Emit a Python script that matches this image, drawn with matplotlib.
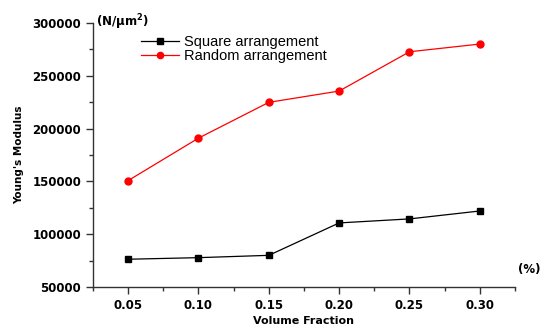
import matplotlib.pyplot as plt
from matplotlib.ticker import MultipleLocator

# Fraction volumique et module d'Young pour les deux arrangements
volume_fraction = [0.05, 0.10, 0.15, 0.20, 0.25, 0.30]
square_modulus = [76300, 77800, 80000, 110700, 114500, 122000]
random_modulus = [150800, 191000, 224900, 235600, 272800, 280100]
x_tick_labels = ["0.05", "0.10", "0.15", "0.20", "0.25", "0.30"]

fig = plt.figure(figsize=(5.47, 3.34), dpi=100)
ax = fig.add_axes([0.170, 0.1407, 0.7715, 0.7903])

ax.plot(volume_fraction, square_modulus, color="black", lw=0.9, marker="s",
        markersize=5, label="Square arrangement")
ax.plot(volume_fraction, random_modulus, color="red", lw=0.9, marker="o",
        markersize=5, label="Random arrangement")

ax.set_xlim(0.025, 0.325)
ax.set_ylim(50000, 300000)
ax.set_xticks(volume_fraction)
ax.set_xticklabels(x_tick_labels)
ax.xaxis.set_minor_locator(MultipleLocator(0.025))
ax.yaxis.set_major_locator(MultipleLocator(50000))
ax.yaxis.set_minor_locator(MultipleLocator(25000))

for s in ["top", "right"]:
    ax.spines[s].set_visible(False)
for s in ["left", "bottom"]:
    ax.spines[s].set_color("#333333")
    ax.spines[s].set_linewidth(1.0)

ax.tick_params(which="major", direction="out", length=5, width=1, colors="#333333")
ax.tick_params(which="minor", direction="out", length=3, width=1, colors="#333333")
for lab in ax.get_xticklabels() + ax.get_yticklabels():
    lab.set_fontweight("bold")
    lab.set_fontsize(8.5)
    lab.set_color("black")

ax.set_xlabel("Volume Fraction", fontsize=8, fontweight="bold", labelpad=3)
ax.set_ylabel("Young's Modulus", fontsize=7.5, fontweight="bold", labelpad=6)

# unités sur les axes
ax.text(0.008, 1.003, r"(N/$\mathbf{\mu m^2}$)", transform=ax.transAxes,
        fontsize=8.5, fontweight="bold", va="center", ha="left")
ax.text(1.007, 0.065, "(%)", transform=ax.transAxes, fontsize=8.5,
        fontweight="bold", va="center", ha="left")

leg = ax.legend(loc="upper left", bbox_to_anchor=(0.082, 1.005), frameon=False,
                prop={"family": "Liberation Sans", "size": 10.5},
                handlelength=2.6, handletextpad=0.35, labelspacing=0.0,
                markerscale=0.9)

fig.savefig("out.png", dpi=100)
